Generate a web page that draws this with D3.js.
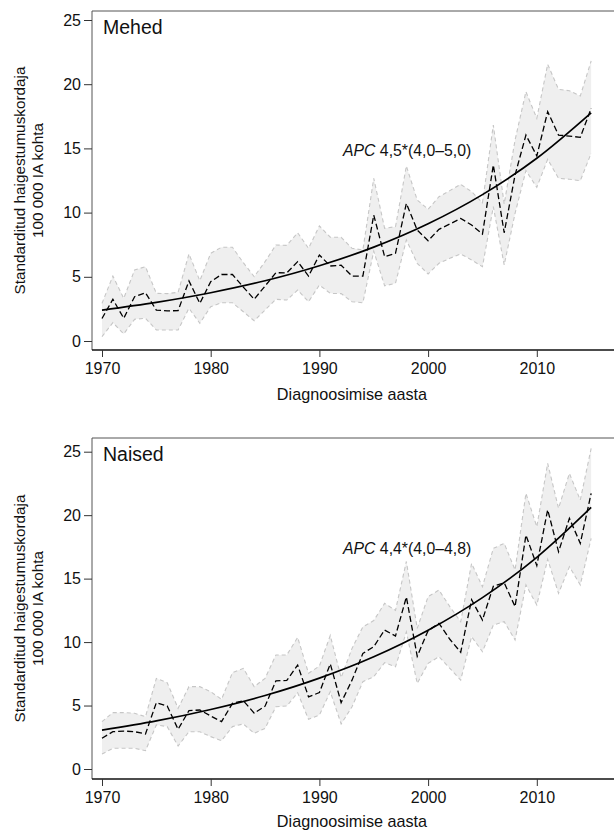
<!DOCTYPE html>
<html><head><meta charset="utf-8">
<script src="https://cdn.jsdelivr.net/npm/d3@7"></script>
<style>body{margin:0;background:#fff;}svg{display:block;font-family:"Liberation Sans",Arial,sans-serif;}</style>
</head><body>
<svg id="c" width="614" height="832"></svg>
<script>
const years = d3.range(1970, 2016);
const xTicks = [1970, 1980, 1990, 2000, 2010];
const yTicks = [0, 5, 10, 15, 20, 25];
const fitYears = [1970, 1975, 1980, 1985, 1990, 1995, 2000, 2005, 2010, 2015];

const menRate = [1.75,3.25,1.77,3.45,3.76,2.40,2.35,2.36,4.68,2.93,4.62,5.18,5.18,4.20,3.25,4.28,5.32,5.30,6.18,5.06,6.70,5.84,5.90,5.06,5.06,9.81,6.57,6.83,10.72,8.64,7.81,8.70,9.11,9.55,9.03,8.33,13.71,8.43,12.93,16.04,14.41,17.86,16.04,15.96,15.86,18.12];
const menUpper = [2.93,5.06,3.32,5.53,5.79,3.71,3.69,3.79,6.78,4.70,6.83,7.30,7.30,6.10,5.01,6.18,7.48,7.45,8.43,7.22,8.96,8.08,8.08,7.22,7.09,12.67,8.78,8.90,13.63,10.98,10.26,11.24,11.71,12.20,11.63,10.77,16.82,10.67,15.65,19.42,17.34,21.55,19.60,19.49,19.08,21.81];
const menLower = [0.34,1.43,0.55,1.69,1.77,0.86,0.86,0.86,2.55,1.38,2.67,2.98,2.98,2.28,1.58,2.41,3.25,3.19,3.97,3.06,4.36,3.71,3.69,3.06,2.98,7.00,4.30,4.49,7.87,6.05,5.22,6.05,6.44,6.78,6.31,5.79,10.46,5.92,9.94,13.27,11.97,14.15,12.67,12.60,12.48,14.62];
const menFit = [2.41,3.01,3.76,4.69,5.86,7.31,9.13,11.40,14.23,17.77];

const womenRate = [2.42,2.94,2.99,2.94,2.76,5.23,4.96,3.13,4.60,4.65,4.18,3.73,5.17,5.38,4.40,4.95,6.95,6.98,8.19,5.68,6.02,8.28,5.23,7.00,9.11,9.64,10.95,10.48,13.55,8.88,10.90,11.48,10.22,9.20,13.34,11.74,14.40,14.68,12.79,18.43,16.03,20.43,17.12,19.75,17.78,21.72];
const womenUpper = [3.73,4.44,4.44,4.39,4.12,7.14,6.80,4.78,6.49,6.49,6.09,5.49,7.59,7.93,6.49,7.14,8.98,8.98,10.37,7.54,8.11,10.52,7.20,9.50,11.20,11.70,13.05,12.50,16.35,11.08,13.58,14.10,12.79,11.61,16.20,14.36,17.38,17.78,15.68,21.72,19.09,24.08,20.54,23.29,21.19,25.26];
const womenLower = [1.18,1.63,1.63,1.63,1.44,3.47,3.34,1.81,2.94,2.94,2.55,2.23,3.34,3.55,2.81,3.20,4.91,4.96,6.01,3.91,4.25,6.09,3.55,4.90,6.88,7.27,8.38,8.06,10.80,6.75,8.32,8.85,7.93,7.01,10.43,9.24,11.34,11.61,10.16,14.50,12.92,16.52,13.84,15.94,14.50,18.17];
const womenFit = [3.07,3.79,4.69,5.79,7.16,8.84,10.93,13.50,16.68,20.61];

const panels = [
  {title:"Mehed", apc:" 4,5*(4,0–5,0)", rate:menRate, up:menUpper, lo:menLower, fit:menFit, top:11, bottom:350, y0:341, y25:20, apcY:156, xtY:400},
  {title:"Naised", apc:" 4,4*(4,0–4,8)", rate:womenRate, up:womenUpper, lo:womenLower, fit:womenFit, top:438, bottom:779, y0:769, y25:451.7, apcY:554, xtY:827}
];

const svg = d3.select("#c");
const x = d3.scaleLinear().domain([1970, 2020]).range([102, 645.5]);
const left = 92;
const FONT = "Liberation Sans, Arial, sans-serif";

panels.forEach(p => {
  const y = d3.scaleLinear().domain([0, 25]).range([p.y0, p.y25]);
  const g = svg.append("g");
  const recs = years.map((yr, i) => ({yr, r:p.rate[i], u:p.up[i], l:p.lo[i]}));

  g.append("path").datum(recs)
    .attr("d", d3.area().x(d => x(d.yr)).y0(d => y(d.l)).y1(d => y(d.u)))
    .attr("fill", "#efefef").attr("stroke", "none");
  ["u","l"].forEach(k => {
    g.append("path").datum(recs)
      .attr("d", d3.line().x(d => x(d.yr)).y(d => y(d[k])))
      .attr("fill", "none").attr("stroke", "#c6c6c6").attr("stroke-width", 1.1)
      .attr("stroke-dasharray", "4,3");
  });
  g.append("path").datum(recs)
    .attr("d", d3.line().x(d => x(d.yr)).y(d => y(d.r)))
    .attr("fill", "none").attr("stroke", "#000").attr("stroke-width", 1.3)
    .attr("stroke-dasharray", "6,3");
  g.append("path").datum(fitYears.map((yr, i) => ({yr, v:p.fit[i]})))
    .attr("d", d3.line().curve(d3.curveMonotoneX).x(d => x(d.yr)).y(d => y(d.v)))
    .attr("fill", "none").attr("stroke", "#000").attr("stroke-width", 1.7);

  g.append("path")
    .attr("d", `M${620},${p.top}H${left}V${p.bottom}`)
    .attr("fill", "none").attr("stroke", "#555").attr("stroke-width", 1);
  g.append("line").attr("x1", left).attr("x2", 620).attr("y1", p.bottom).attr("y2", p.bottom)
    .attr("stroke", "#111").attr("stroke-width", 1.5);

  const ya = g.append("g").attr("transform", `translate(${left},0)`)
    .call(d3.axisLeft(y).tickValues(yTicks).tickSize(8).tickPadding(3).tickFormat(d3.format("d")));
  ya.select(".domain").remove();
  ya.selectAll("line").attr("stroke", "#333");
  ya.selectAll("text").attr("font-size", 16).attr("fill", "#111").attr("font-family", FONT);

  const xa = g.append("g").attr("transform", `translate(0,${p.bottom})`)
    .call(d3.axisBottom(x).tickValues(xTicks).tickSize(7).tickPadding(6).tickFormat(d3.format("d")));
  xa.select(".domain").remove();
  xa.selectAll("line").attr("stroke", "#333");
  xa.selectAll("text").attr("font-size", 16).attr("fill", "#111").attr("font-family", FONT);

  g.append("text").attr("x", 352).attr("y", p.xtY).attr("text-anchor", "middle")
    .attr("font-size", 16.2).attr("fill", "#111").text("Diagnoosimise aasta");

  g.append("text").attr("x", 103).attr("y", p.top + 23).attr("font-size", 19.5).attr("fill", "#111").text(p.title);

  const t = g.append("text").attr("x", 343).attr("y", p.apcY).attr("font-size", 15.8).attr("fill", "#111");
  t.append("tspan").attr("font-style", "italic").text("APC");
  t.append("tspan").text(p.apc);

  const cy = (p.top + p.bottom) / 2;
  const yl = g.append("text").attr("transform", `translate(25,${cy}) rotate(-90)`)
    .attr("text-anchor", "middle").attr("font-size", 15.3).attr("fill", "#111");
  yl.append("tspan").attr("x", 0).attr("dy", 0).text("Standarditud haigestumuskordaja");
  yl.append("tspan").attr("x", 0).attr("dy", 18).text("100 000 IA kohta");
});
</script>
</body></html>
